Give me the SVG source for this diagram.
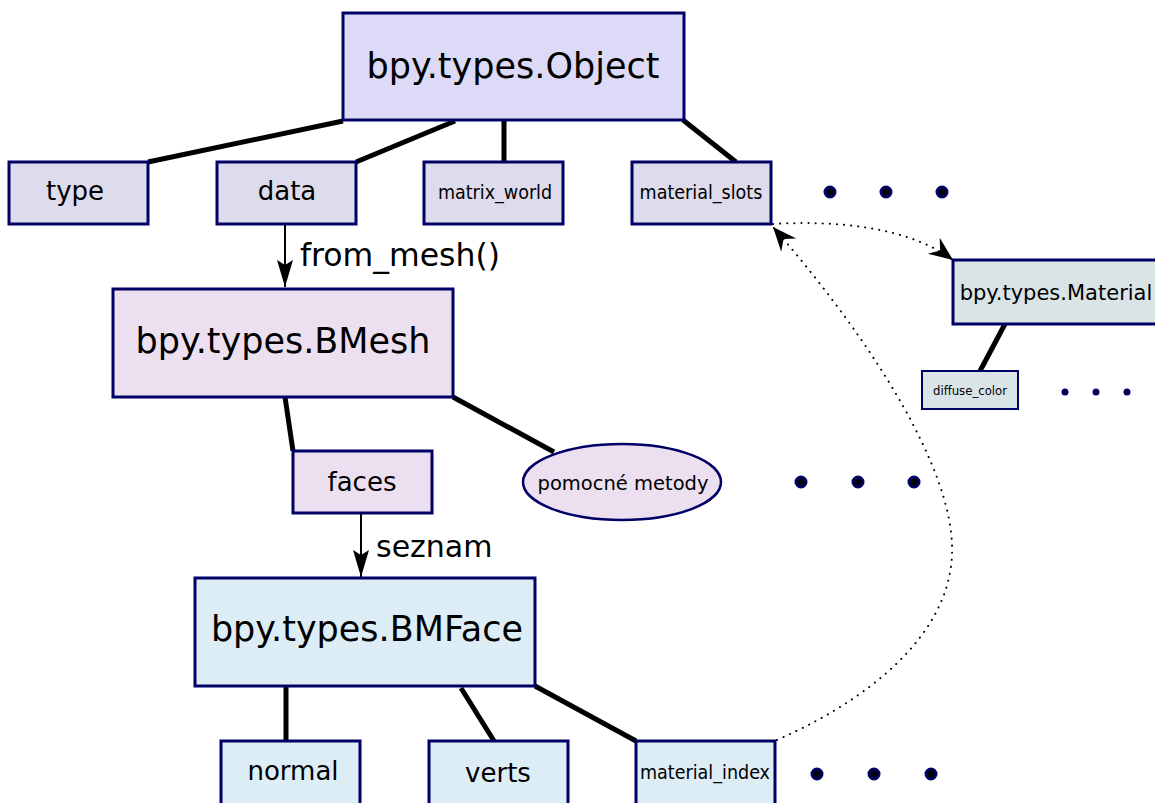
<svg xmlns="http://www.w3.org/2000/svg" width="1155" height="803" viewBox="0 0 1155 803">
<style>
  .box { stroke: #000066; stroke-width: 3; }
  .obj { fill: #dcdaf6; }
  .objc { fill: #dddbec; }
  .mesh { fill: #ece0f0; }
  .face { fill: #dcedf6; }
  .mat { fill: #dae4e7; }
  .t { font-family: "DejaVu Sans", Verdana, sans-serif; fill: #000; text-anchor: middle; }
  .c { font-family: "DejaVu Sans Condensed", "DejaVu Sans", sans-serif; font-stretch: condensed; fill: #000; text-anchor: middle; }
  .big { font-size: 35px; }
  .mid { font-size: 26px; }
  .lab { font-family: "DejaVu Sans", Verdana, sans-serif; font-size: 30px; fill: #000; }
  .link { stroke: #000; stroke-width: 5; fill: none; }
  .arr { stroke: #000; stroke-width: 2; fill: none; }
  .dot { stroke: #000; stroke-width: 2; stroke-dasharray: 0.1 7; stroke-linecap: round; fill: none; }
  .bd { fill: #000; stroke: #000066; stroke-width: 3; }
  .sd { fill: #000; stroke: #000066; stroke-width: 2; }
</style>
<defs>
  <marker id="ah" markerUnits="userSpaceOnUse" markerWidth="30" markerHeight="24" viewBox="-25 -12 30 24" refX="0" refY="0" orient="auto" overflow="visible">
    <path d="M0,0 L-24,-10 L-16,0 L-24,10 Z" fill="#000"/>
  </marker>
  <marker id="ah2" markerUnits="userSpaceOnUse" markerWidth="30" markerHeight="24" viewBox="-25 -12 30 24" refX="0" refY="0" orient="auto" overflow="visible">
    <path d="M0,0 L-27,-8 L-22,0 L-27,8 Z" fill="#000"/>
  </marker>
</defs>

<g id="connectors">
  <line class="link" x1="343" y1="121" x2="148" y2="162"/>
  <line class="link" x1="455" y1="121" x2="356" y2="162"/>
  <line class="link" x1="504" y1="120" x2="504" y2="162"/>
  <line class="link" x1="683" y1="120" x2="736" y2="162"/>
  <line class="link" x1="285" y1="397" x2="293" y2="451"/>
  <line class="link" x1="453" y1="397" x2="554" y2="452"/>
  <line class="link" x1="286" y1="686" x2="286" y2="741"/>
  <line class="link" x1="461" y1="688" x2="494" y2="741"/>
  <line class="link" x1="535" y1="686" x2="636" y2="741"/>
  <line class="link" x1="1005" y1="324" x2="980" y2="371"/>
  <line class="arr" x1="285" y1="225" x2="285" y2="287" marker-end="url(#ah2)"/>
  <line class="arr" x1="361" y1="514" x2="361" y2="577" marker-end="url(#ah2)"/>
  <path class="dot" d="M773 224 C840 220 910 228 953 260" marker-end="url(#ah)"/>
  <path class="dot" d="M777 740 C890 690 955 620 952 545 C950 470 880 350 773 227" marker-end="url(#ah)"/>
  <text class="lab" x="300" y="266" style="font-size:31.5px">from_mesh()</text>
  <text class="lab" x="376" y="557">seznam</text>
</g>

<g id="object">
  <rect class="box obj" x="343" y="13" width="341" height="107"/>
  <text class="t big" x="513" y="78">bpy.types.Object</text>
</g>
<g id="type">
  <rect class="box objc" x="9" y="162" width="139" height="62"/>
  <text class="t mid" x="75" y="200">type</text>
</g>
<g id="data">
  <rect class="box objc" x="217" y="162" width="139" height="62"/>
  <text class="t mid" x="287" y="200">data</text>
</g>
<g id="matrix_world">
  <rect class="box objc" x="424" y="162" width="139" height="62"/>
  <text class="c" font-size="19.5" x="495" y="199">matrix_world</text>
</g>
<g id="material_slots">
  <rect class="box objc" x="632" y="162" width="139" height="62"/>
  <text class="c" font-size="19.5" x="701" y="199">material_slots</text>
</g>
<g id="object_more">
  <circle class="bd" cx="830" cy="192" r="5"/>
  <circle class="bd" cx="886" cy="192" r="5"/>
  <circle class="bd" cx="942" cy="192" r="5"/>
</g>

<g id="material">
  <rect class="box mat" x="953" y="260" width="210" height="64"/>
  <text class="t" font-size="21" x="1056" y="300">bpy.types.Material</text>
</g>
<g id="diffuse_color">
  <rect class="box mat" x="922" y="371" width="96" height="38" style="stroke-width:2"/>
  <text class="c" font-size="13" x="970" y="395">diffuse_color</text>
</g>
<g id="material_more">
  <circle class="sd" cx="1065" cy="392" r="2.5"/>
  <circle class="sd" cx="1096" cy="392" r="2.5"/>
  <circle class="sd" cx="1127" cy="392" r="2.5"/>
</g>

<g id="bmesh">
  <rect class="box mesh" x="113" y="289" width="340" height="108"/>
  <text class="t big" x="283" y="353">bpy.types.BMesh</text>
</g>
<g id="faces">
  <rect class="box mesh" x="293" y="451" width="139" height="62"/>
  <text class="t mid" x="362" y="491">faces</text>
</g>
<g id="pomocne">
  <ellipse class="box mesh" cx="622" cy="482" rx="99" ry="38" style="stroke-width:2.5"/>
  <text class="t" font-size="19.5" x="623" y="490">pomocné metody</text>
</g>
<g id="bmesh_more">
  <circle class="bd" cx="801" cy="482" r="5"/>
  <circle class="bd" cx="858" cy="482" r="5"/>
  <circle class="bd" cx="914" cy="482" r="5"/>
</g>

<g id="bmface">
  <rect class="box face" x="195" y="578" width="340" height="108"/>
  <text class="t big" x="367" y="641">bpy.types.BMFace</text>
</g>
<g id="normal">
  <rect class="box face" x="221" y="741" width="139" height="66"/>
  <text class="t mid" x="293" y="780">normal</text>
</g>
<g id="verts">
  <rect class="box face" x="429" y="741" width="139" height="66"/>
  <text class="t mid" x="498" y="782">verts</text>
</g>
<g id="material_index">
  <rect class="box face" x="636" y="741" width="139" height="66"/>
  <text class="c" font-size="19.5" x="705" y="779">material_index</text>
</g>
<g id="bmface_more">
  <circle class="bd" cx="817" cy="774" r="5"/>
  <circle class="bd" cx="874" cy="774" r="5"/>
  <circle class="bd" cx="931" cy="774" r="5"/>
</g>
</svg>
